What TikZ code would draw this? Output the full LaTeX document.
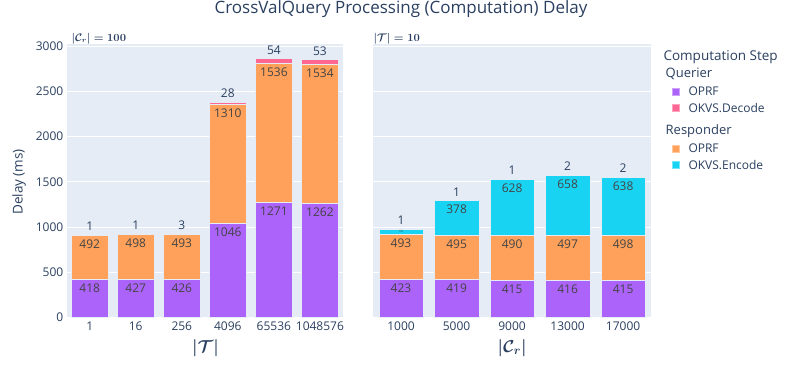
\documentclass[tikz,border=0pt]{standalone}
\usepackage{amsmath,bm}
\usepackage{fontspec}
\setmainfont{Open Sans}
\definecolor{txt}{HTML}{2A3F5F}
\definecolor{plotbg}{HTML}{E5ECF6}
\definecolor{qoprf}{HTML}{AB63FA}
\definecolor{qdec}{HTML}{FF6692}
\definecolor{roprf}{HTML}{FFA15A}
\definecolor{renc}{HTML}{19D3F3}
\definecolor{intxt}{HTML}{444444}
\tikzset{
  seg/.style={draw=plotbg, line width=0.5pt},
  grid/.style={draw=white, line width=1pt},
  tick/.style={text=txt, font=\fontsize{12}{14}\selectfont, inner sep=0pt},
  inval/.style={text=intxt, font=\fontsize{12}{14}\selectfont, inner sep=0pt},
  outval/.style={text=txt, font=\fontsize{12}{14}\selectfont, inner sep=0pt},
  legtxt/.style={text=txt, font=\fontsize{12}{14}\selectfont, inner sep=0pt, anchor=west},
  leggrp/.style={text=txt, font=\fontsize{13}{15}\selectfont, inner sep=0pt, anchor=west},
  legsq/.style={minimum size=7pt, inner sep=0pt, line width=0.5pt},
  axtitle/.style={text=txt, inner sep=0pt, font=\fontsize{18}{20}\selectfont\boldmath},
  annot/.style={text=txt, inner sep=0pt, anchor=west, font=\fontsize{10.5}{12}\selectfont\boldmath},
}
\begin{document}
\begin{tikzpicture}[x=1pt,y=-1pt]
\useasboundingbox (0,0) rectangle (801,367);
% plot areas
\fill[plotbg] (66.7,44.3) rectangle (343.3,317.5);
\fill[plotbg] (373.3,44.3) rectangle (650.8,317.5);
% grid
\foreach \v in {0,500,...,3000}{
  \pgfmathsetmacro\gy{317.5-\v*0.0905}
  \draw[grid] (66.7,\gy) -- (343.3,\gy);
  \draw[grid] (373.3,\gy) -- (650.8,\gy);
  \node[tick, anchor=east] (yt\v) at (63.5,\gy) {\v};
}
% left panel bars
\foreach \n/\cx/\lab/\a/\b/\d in {1/89.7/1/418/492/1, 2/135.7/16/427/498/1, 3/181.8/256/426/493/3, 4/227.8/4096/1046/1310/28, 5/273.9/65536/1271/1536/54, 6/319.9/1048576/1262/1534/53}{
  \pgfmathsetmacro\yA{317.5-\a*0.0905}
  \pgfmathsetmacro\yB{317.5-(\a+\b)*0.0905}
  \pgfmathsetmacro\yD{317.5-(\a+\b+\d)*0.0905}
  \filldraw[fill=qoprf, seg] (\cx-18.4,317.5) rectangle (\cx+18.4,\yA);
  \filldraw[fill=roprf, seg] (\cx-18.4,\yA) rectangle (\cx+18.4,\yB);
  \filldraw[fill=qdec, seg] (\cx-18.4,\yB) rectangle (\cx+18.4,\yD);
  \node[inval] (la\n) at (\cx,\yA+9) {\a};
  \node[inval] (lb\n) at (\cx,\yB+9) {\b};
  \node[outval] (ld\n) at (\cx,\yD-8.5) {\d};
  \node[tick] (lx\n) at (\cx,326.5) {\lab};
}
% right panel bars
\foreach \n/\cx/\lab/\a/\b/\c/\d in {1/401.0/1000/423/493/64/1, 2/456.6/5000/419/495/378/1, 3/512.1/9000/415/490/628/1, 4/567.6/13000/416/497/658/2, 5/623.1/17000/415/498/638/2}{
  \pgfmathsetmacro\yA{317.5-\a*0.0905}
  \pgfmathsetmacro\yB{317.5-(\a+\b)*0.0905}
  \pgfmathsetmacro\yC{317.5-(\a+\b+\c)*0.0905}
  \pgfmathsetmacro\yD{317.5-(\a+\b+\c+\d)*0.0905}
  \filldraw[fill=qoprf, seg] (\cx-22.2,317.5) rectangle (\cx+22.2,\yA);
  \filldraw[fill=roprf, seg] (\cx-22.2,\yA) rectangle (\cx+22.2,\yB);
  \filldraw[fill=renc, seg] (\cx-22.2,\yB) rectangle (\cx+22.2,\yC);
  \filldraw[fill=qdec, seg] (\cx-22.2,\yC) rectangle (\cx+22.2,\yD);
  \node[inval] (ra\n) at (\cx,\yA+9) {\a};
  \node[inval] (rb\n) at (\cx,\yB+9) {\b};
  \node[outval] (rd\n) at (\cx,\yD-8.5) {\d};
  \node[tick] (rx\n) at (\cx,326.5) {\lab};
}
% encode labels (right panel)
\node[inval, font=\fontsize{3}{3}\selectfont] (rc1) at (401.0,231.8) {64};
\foreach \n/\cx/\c/\t in {2/456.6/378/1292, 3/512.1/628/1533, 4/567.6/658/1571, 5/623.1/638/1551}{
  \pgfmathsetmacro\yC{317.5-\t*0.0905}
  \node[inval] (rc\n) at (\cx,\yC+9) {\c};
}
% title
\node[text=txt, font=\fontsize{17}{20}\selectfont, inner sep=0pt] (title) at (401,9.5) {CrossValQuery Processing (Computation) Delay};
% y axis title
\node[text=txt, font=\fontsize{13.5}{16}\selectfont, inner sep=0pt, rotate=90] (ytitle) at (19,182) {Delay (ms)};
% x axis titles
\node[axtitle] (xt1) at (205.5,348) {$|\mathcal{T}|$};
\node[axtitle] (xt2) at (512.1,348) {$|\mathcal{C}_r|$};
% annotations
\node[annot] (an1) at (71.5,38.5) {$|\mathcal{C}_r| = 100$};
\node[annot] (an2) at (373.3,38.5) {$|\mathcal{T}| = 10$};
% legend
\node[leggrp, font=\fontsize{13.5}{16}\selectfont] (legtitle) at (663.3,57.5) {Computation Step};
\node[leggrp] (grpq) at (665.5,74.3) {Querier};
\node[legsq, fill=qoprf, draw=qoprf!60!white] (sq1) at (675.3,91.7) {};
\node[legtxt] (lt1) at (688.3,91.7) {OPRF};
\node[legsq, fill=qdec, draw=qdec!60!white] (sq2) at (675.3,108) {};
\node[legtxt] (lt2) at (688.3,108) {OKVS.Decode};
\node[leggrp] (grpr) at (665.5,131.3) {Responder};
\node[legsq, fill=roprf, draw=roprf!60!white] (sq3) at (675.3,148.7) {};
\node[legtxt] (lt3) at (688.3,148.7) {OPRF};
\node[legsq, fill=renc, draw=renc!60!white] (sq4) at (675.3,164.7) {};
\node[legtxt] (lt4) at (688.3,164.7) {OKVS.Encode};
\end{tikzpicture}
\end{document}
